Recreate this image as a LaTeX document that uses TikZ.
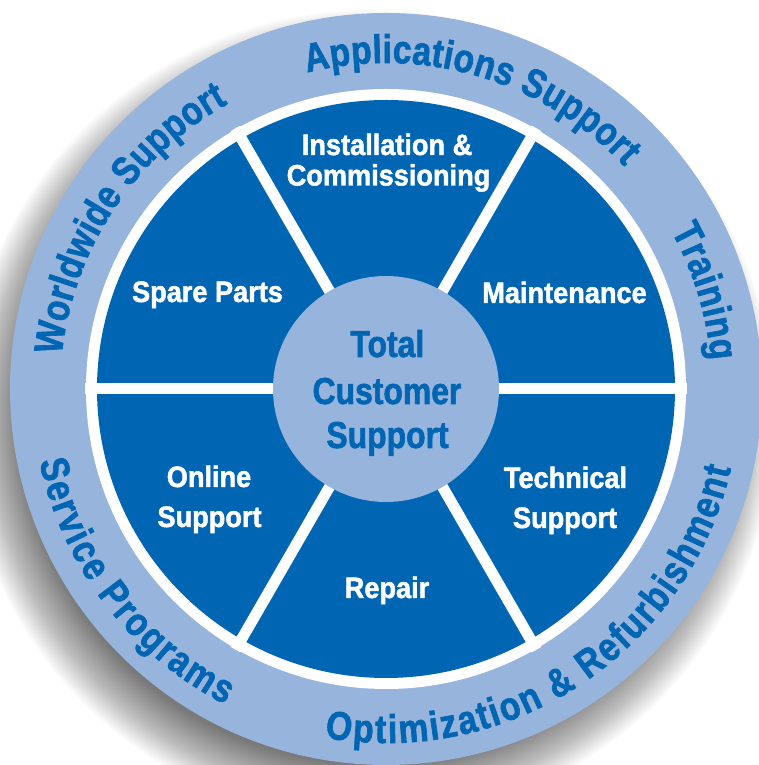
\documentclass[tikz,border=0pt]{standalone}
\usepackage{fontspec}
\setmainfont{Liberation Sans}
\newfontfamily\segfam[FakeStretch=0.92, FakeBold=1.6]{Liberation Sans}
\newfontfamily\cenfam[FakeStretch=0.85, FakeBold=1.6]{Liberation Sans}
\newfontfamily\ringfam[FakeStretch=0.84, FakeBold=1.6]{Liberation Sans}
\usetikzlibrary{decorations.text,calc}
\definecolor{dblue}{HTML}{0066B3}
\definecolor{lblue}{HTML}{96B4DC}
\newcommand\mysegfont{\segfam\bfseries\fontsize{29.5}{35}\selectfont}
\newcommand\mycenfont{\cenfam\bfseries\fontsize{37.5}{44}\selectfont}
\newcommand\myringfont{\ringfam\bfseries\fontsize{40}{48}\selectfont}
\tikzset{
  seglabel/.style={font=\mysegfont, text=white, anchor=base, inner sep=0pt},
  cenlabel/.style={font=\mycenfont, text=dblue, anchor=base, inner sep=0pt},
  ringtext/.style={decorate, decoration={text along path, text color=dblue, text align=fit to path}},
  divider/.style={draw=white, line width=11pt},
}
\begin{document}
\begin{tikzpicture}[x=1pt,y=1pt]
\useasboundingbox (0,0) rectangle (759,765);
\clip (0,0) rectangle (759,765);
\fill[white] (0,0) rectangle (759,765);
\coordinate (C) at (386,376);
\coordinate (S) at (370,349);
% shadow
\foreach \k in {0,...,39}
  \fill[black, opacity=0.017] (S) circle[radius={406-1.5*\k}];
% rings
\fill[lblue] (C) circle[radius=376];
\fill[white] (C) circle[radius=300];
\fill[dblue] (C) circle[radius=289];
% dividers
\foreach \a in {0,60,120}
  \draw[divider] ($(C)+(\a:301)$) -- ($(C)+(\a+180:301)$);
% centre disk
\fill[lblue] (C) circle[radius=113];
% centre text
\node[cenlabel] (t1) at (387.3,408) {Total};
\node[cenlabel] (t2) at (387,361) {Customer};
\node[cenlabel] (t3) at (387.5,317) {Support};
% segment labels
\node[seglabel] (i1) at (387,610) {Installation \&};
\node[seglabel] (i2) at (388.5,579.5) {Commissioning};
\node[seglabel] (sp) at (207.5,463) {Spare Parts};
\node[seglabel] (ma) at (564.5,462) {Maintenance};
\node[seglabel] (o1) at (209,278) {Online};
\node[seglabel] (o2) at (209.5,238) {Support};
\node[seglabel] (te1) at (565.5,277) {Technical};
\node[seglabel] (te2) at (565,237) {Support};
\node[seglabel] (re) at (387,167) {Repair};
% ring texts
\path[ringtext, decoration={text={|\myringfont|Applications Support}}]
  ($(C)+(104:326)$) arc[start angle=104, end angle=43, radius=326];
\path[ringtext, decoration={text={|\myringfont|Training}}]
  ($(C)+(29:326)$) arc[start angle=29, end angle=5, radius=326];
\path[ringtext, decoration={text={|\myringfont|Worldwide Support}}]
  ($(C)+(174:326)$) arc[start angle=174, end angle=119, radius=326];
\path[ringtext, decoration={text={|\myringfont|Service Programs}}]
  ($(C)+(191.8:354)$) arc[start angle=191.8, end angle=243, radius=354];
\path[ringtext, decoration={text={|\myringfont|Optimization {\&} Refurbishment}}]
  ($(C)+(260:354)$) arc[start angle=260, end angle=347, radius=354];
\end{tikzpicture}
\end{document}
